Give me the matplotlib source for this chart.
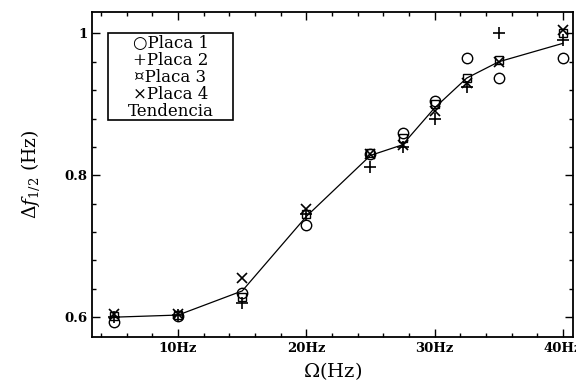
import matplotlib.pyplot as plt
from matplotlib.patches import Rectangle
from matplotlib.ticker import MultipleLocator

# frequency of excitation (Hz) and measured half-width for each plate
omega = [5, 10, 15, 20, 25, 27.5, 30, 32.5, 35, 40]
placa1 = [0.593, 0.602, 0.634, 0.730, 0.830, 0.859, 0.905, 0.965, 0.937, 0.965]
placa2 = [0.600, 0.603, 0.620, 0.745, 0.812, 0.840, 0.880, 0.924, 1.000, 0.990]
placa3 = [0.602, 0.603, 0.628, 0.745, 0.832, 0.852, 0.900, 0.937, 0.963, 1.000]
placa4 = [0.605, 0.605, 0.655, 0.752, 0.830, 0.842, 0.890, 0.930, 0.960, 1.005]
tendencia = [0.600, 0.603, 0.637, 0.742, 0.828, 0.843, 0.895, 0.937, 0.960, 0.986]

xticks = [10, 20, 30, 40]
xticklabels = ['10Hz', '20Hz', '30Hz', '40Hz']
yticks = [0.6, 0.8, 1.0]
yticklabels = ['0.6', '0.8', '1']
legend_lines = ['\u25cbPlaca 1', '+Placa 2', '\u00a4Placa 3', '\u00d7Placa 4', 'Tendencia']

plt.rcParams['font.family'] = ['DejaVu Serif']
plt.rcParams['mathtext.fontset'] = 'dejavuserif'

fig = plt.figure(figsize=(5.76, 3.91), dpi=100)
ax = fig.add_axes([0.16, 0.138, 0.835, 0.831])

ax.plot(omega, tendencia, color='black', lw=0.9, zorder=2)
ax.plot(omega, placa1, ls='none', marker='o', ms=7.5, mfc='none', mec='black', mew=1.0)
ax.plot(omega, placa2, ls='none', marker='+', ms=8, mec='black', mew=1.2)
ax.plot(omega, placa3, ls='none', marker='s', ms=5.5, mfc='none', mec='black', mew=1.0)
ax.plot(omega, placa4, ls='none', marker='x', ms=6.5, mec='black', mew=1.2)

ax.set_xlim(3.3, 40.8)
ax.set_ylim(0.572, 1.03)

ax.set_xticks(xticks, xticklabels)
ax.set_yticks(yticks, yticklabels)
ax.xaxis.set_minor_locator(MultipleLocator(2))
ax.yaxis.set_minor_locator(MultipleLocator(0.04))
ax.tick_params(which='both', direction='in', top=True, right=True, labelsize=9.5, width=1.0)
ax.tick_params(which='major', length=6)
ax.tick_params(which='minor', length=3)
for lbl in ax.get_yticklabels() + ax.get_xticklabels():
    lbl.set_fontweight('bold')
for sp in ax.spines.values():
    sp.set_linewidth(1.3)

ax.set_xlabel(r'$\Omega$(Hz)', fontsize=14, labelpad=4)
ax.set_ylabel(r'$\Delta f_{1/2}$ (Hz)', fontsize=13.5, labelpad=16)

# legend drawn as a framed block of text
ax.add_patch(Rectangle((0.033, 0.668), 0.26, 0.267, transform=ax.transAxes,
                       fc='white', ec='black', lw=1.2, zorder=5))
ax.text(0.163, 0.80, '\n'.join(legend_lines), transform=ax.transAxes,
        ha='center', va='center', fontsize=12, linespacing=1.0,
        multialignment='center', zorder=6)

fig.savefig('out.png', dpi=100)
